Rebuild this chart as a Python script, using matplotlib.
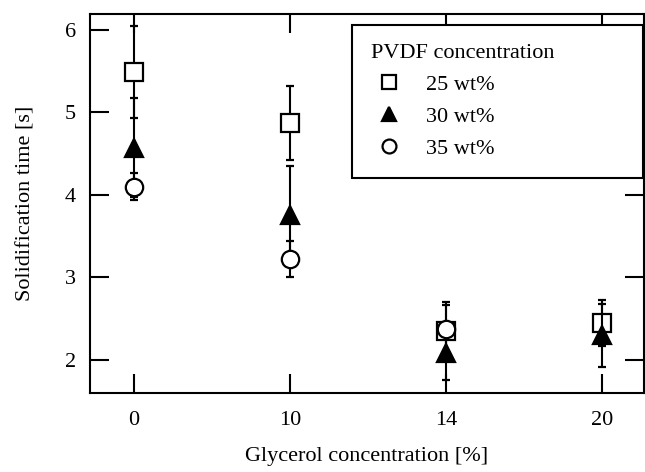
import matplotlib
matplotlib.use("Agg")
import matplotlib.pyplot as plt
from matplotlib.lines import Line2D
import numpy as np

plt.rcParams['font.family'] = ['Liberation Serif', 'DejaVu Serif']
plt.rcParams['font.size'] = 16

# glycerol concentration categories (evenly spaced on the chart)
glycerol = ["0", "10", "14", "20"]

# solidification time [s] and error for each PVDF concentration
pvdf25 = [5.49, 4.87, 2.35, 2.45]
pvdf25_err = [0.56, 0.45, 0.35, 0.28]
pvdf30 = [4.57, 3.76, 2.09, 2.30]
pvdf30_err = [0.60, 0.59, 0.33, 0.38]
pvdf35 = [4.10, 3.22, 2.37, np.nan]
pvdf35_err = [0.16, 0.22, 0.30, np.nan]

labels = ["25 wt%", "30 wt%", "35 wt%"]

fig = plt.figure(figsize=(6.45, 4.72), dpi=100)
ax = fig.add_axes([0.1395, 0.1674, 0.859, 0.803])

x = np.arange(len(glycerol))
common = dict(color='black', ecolor='black', elinewidth=1.5, capsize=3,
              capthick=1.5, linestyle='none', markersize=12.5, markeredgewidth=1.6)
ax.errorbar(x, pvdf25, yerr=pvdf25_err, marker='s', markerfacecolor='white', zorder=3, **common)
ax.errorbar(x, pvdf30, yerr=pvdf30_err, marker='^', markerfacecolor='black', zorder=4, **common)
ax.errorbar(x, pvdf35, yerr=pvdf35_err, marker='o', markerfacecolor='white', zorder=5, **common)

ax.set_xlim(-0.28, 3.27)
ax.set_ylim(1.6, 6.19)
ax.set_xticks(x)
ax.set_xticklabels(glycerol)
ax.set_yticks([2, 3, 4, 5, 6])
ax.tick_params(direction='in', length=14, width=1.5, top=True, right=True, pad=13)
ax.tick_params(axis='y', pad=10)
for s in ax.spines.values():
    s.set_linewidth(1.5)

ax.set_xlabel("Glycerol concentration [%]", labelpad=12)
ax.set_ylabel("Solidification time [s]", labelpad=21)

handles = [
    Line2D([], [], marker='s', color='black', markerfacecolor='white', linestyle='none', markersize=10, markeredgewidth=1.6),
    Line2D([], [], marker='^', color='black', markerfacecolor='black', linestyle='none', markersize=10, markeredgewidth=1.6),
    Line2D([], [], marker='o', color='black', markerfacecolor='white', linestyle='none', markersize=10, markeredgewidth=1.6),
]
leg = ax.legend(handles, labels, title="PVDF concentration", loc='upper left',
                bbox_to_anchor=(0.473, 0.583, 0.525, 0.388), mode='expand',
                borderaxespad=0, fancybox=False, edgecolor='black',
                alignment='left', labelspacing=0.52, handletextpad=0.9,
                handlelength=1.6, borderpad=0.85, title_fontsize=16)
leg.get_frame().set_linewidth(1.5)
leg.get_frame().set_alpha(1)

fig.savefig("out.png", dpi=100)
